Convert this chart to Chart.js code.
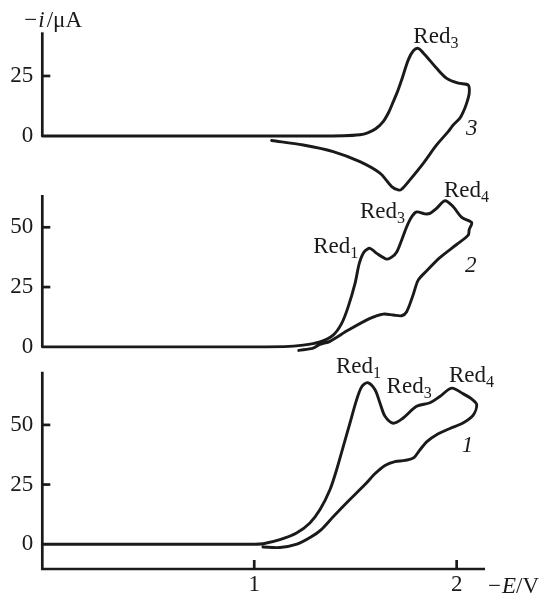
<!DOCTYPE html>
<html>
<head>
<meta charset="utf-8">
<script src="https://cdn.jsdelivr.net/npm/chart.js@4.4.1/dist/chart.umd.min.js"></script>
<style>
html, body { margin: 0; padding: 0; background: #ffffff; }
#wrap { width: 546px; height: 596px; }
canvas { display: block; }
</style>
</head>
<body>
<div id="wrap"><canvas id="cv" width="546" height="596"></canvas></div>
<script>
// ---------- data ----------
// curve 3 (top panel): forward scan then reverse scan (−E in V, −i in µA)
const potential3 = [-0.047, 0.6, 1.2, 1.44, 1.522, 1.56, 1.6, 1.637, 1.665, 1.687, 1.71, 1.728, 1.761, 1.786, 1.81, 1.835, 1.852, 1.901, 1.951, 2.008, 2.057,
                    2.062, 2.049, 2.033, 2.016, 1.983, 1.958, 1.901, 1.835, 1.769, 1.728, 1.711, 1.679, 1.621, 1.522, 1.39, 1.242, 1.086];
const current3   = [0, 0, 0, 0.1, 0.5, 1.3, 3.0, 6.0, 10.0, 14.3, 19.0, 23.3, 31.7, 35.5, 36.5, 34.6, 33.0, 28.2, 24.0, 22.0, 21.2,
                    17.8, 13.6, 10.1, 7.4, 4.6, 1.8, -3.75, -11.4, -18.3, -22.2, -22.5, -21.1, -15.5, -10.7, -6.5, -3.75, -1.9];

// curve 2 (middle panel)
const potential2 = [-0.047, 0.6, 1.15, 1.242, 1.325, 1.39, 1.432, 1.464, 1.498, 1.519, 1.543, 1.572, 1.605, 1.654, 1.679, 1.704, 1.728, 1.753, 1.778, 1.802, 1.843, 1.868, 1.901, 1.942, 1.983, 2.025, 2.074,
                    2.062, 2.057, 2.0, 1.917, 1.852, 1.81, 1.786, 1.753, 1.728, 1.687, 1.637, 1.572, 1.465, 1.374, 1.325, 1.291, 1.22];
const current2   = [0, 0, 0.1, 0.7, 2.1, 4.9, 9.8, 16.7, 26.5, 34.9, 39.7, 41.2, 39.1, 36.7, 37.5, 39.7, 44.6, 50.2, 54.4, 56.4, 55.6, 55.8, 57.9, 61.1, 58.6, 54.1, 52.0,
                    49.0, 46.7, 42.8, 37.3, 31.8, 27.9, 22.0, 14.7, 13.0, 13.3, 13.7, 11.9, 7.0, 2.3, 1.0, -0.5, -1.5];

// curve 1 (bottom panel)
const potential1 = [-0.047, 0.6, 1.0, 1.044, 1.127, 1.209, 1.275, 1.325, 1.374, 1.407, 1.44, 1.473, 1.506, 1.531, 1.56, 1.596, 1.621, 1.646, 1.687, 1.736, 1.802, 1.868, 1.917, 1.975, 2.033, 2.074, 2.099,
                    2.081, 2.031, 1.967, 1.903, 1.853, 1.819, 1.789, 1.745, 1.695, 1.646, 1.596, 1.547, 1.458, 1.39, 1.33, 1.28, 1.211, 1.127, 1.043];
const current1   = [0, 0, 0, 0.2, 1.9, 4.7, 8.9, 14.5, 22.8, 31.2, 41.0, 50.8, 60.6, 66.0, 67.7, 64.8, 59.2, 53.6, 50.7, 52.9, 57.8, 59.3, 61.9, 65.4, 63.0, 60.9, 58.5,
                    54.0, 50.8, 48.5, 46.0, 43.0, 39.6, 36.3, 35.1, 34.6, 33.0, 29.5, 25.0, 17.5, 11.5, 6.0, 3.0, 0.0, -1.4, -1.2];

// tick labels
const xTickValues  = [1, 2];
const yTickValues1 = [0, 25, 50];
const yTickValues2 = [0, 25, 50];
const yTickValues3 = [0, 25];

// ---------- styling / annotation placement ----------
const INK = '#1a1a1a';
const SERIF = '"Liberation Serif", "Times New Roman", Times, serif';
const FS = 23;
const SUBFS = 16;

const peakLabels = [
  { axis: 'y3', E: 1.786, I: 38.9, name: 'Red', sub: '3' },
  { axis: 'y2', E: 1.937, I: 62.8, name: 'Red', sub: '4' },
  { axis: 'y2', E: 1.522, I: 54.0, name: 'Red', sub: '3' },
  { axis: 'y2', E: 1.291, I: 39.3, name: 'Red', sub: '1' },
  { axis: 'y1', E: 1.404, I: 71.7, name: 'Red', sub: '1' },
  { axis: 'y1', E: 1.654, I: 63.3, name: 'Red', sub: '3' },
  { axis: 'y1', E: 1.962, I: 68.1, name: 'Red', sub: '4' }
];
const curveTags = [
  { axis: 'y3', E: 2.046, I: 0.4, text: '3' },
  { axis: 'y2', E: 2.041, I: 31.4, text: '2' },
  { axis: 'y1', E: 2.025, I: 38.8, text: '1' }
];
const panelAxes = [
  { id: 'y3', ticks: yTickValues3, floor: 0 },
  { id: 'y2', ticks: yTickValues2, floor: 0 },
  { id: 'y1', ticks: yTickValues1, floor: null }
];

function rich(ctx, x, y, parts) {
  let cx = x;
  parts.forEach(p => {
    ctx.font = (p.it ? 'italic ' : '') + (p.size || FS) + 'px ' + SERIF;
    ctx.fillText(p.t, cx, y + (p.dy || 0));
    cx += ctx.measureText(p.t).width + (p.gap || 0);
  });
}

const framePlugin = {
  id: 'frame',
  afterDraw(chart) {
    const { ctx, chartArea: a, scales } = chart;
    const xs = scales.x;
    ctx.save();
    ctx.strokeStyle = INK;
    ctx.fillStyle = INK;
    ctx.lineWidth = 2.7;
    ctx.lineCap = 'butt';
    ctx.lineJoin = 'miter';
    // axes
    panelAxes.forEach(p => {
      const s = scales[p.id];
      const yb = p.floor === null ? s.bottom : s.getPixelForValue(p.floor);
      ctx.beginPath();
      ctx.moveTo(a.left, s.top);
      ctx.lineTo(a.left, yb);
      if (p.floor === null) ctx.lineTo(a.right, yb);
      ctx.stroke();
      p.ticks.forEach(v => {
        if (v === 0) return;
        const y = s.getPixelForValue(v);
        ctx.beginPath();
        ctx.moveTo(a.left, y);
        ctx.lineTo(a.left + 8, y);
        ctx.stroke();
      });
    });
    xTickValues.forEach(v => {
      const x = xs.getPixelForValue(v);
      ctx.beginPath();
      ctx.moveTo(x, a.bottom);
      ctx.lineTo(x, a.bottom - 9);
      ctx.stroke();
    });
    // text
    ctx.textAlign = 'left';
    ctx.textBaseline = 'alphabetic';
    rich(ctx, a.left - 18, a.top - 5, [{ t: '\u2212', gap: 1 }, { t: 'i', it: true, gap: 2 }, { t: '/\u03BCA' }]);
    rich(ctx, a.right + 3, a.bottom + 24, [{ t: '\u2212', gap: 1 }, { t: 'E', it: true }, { t: '/V' }]);
    peakLabels.forEach(l => {
      const s = scales[l.axis];
      rich(ctx, xs.getPixelForValue(l.E), s.getPixelForValue(l.I),
           [{ t: l.name }, { t: l.sub, size: SUBFS, dy: 5 }]);
    });
    curveTags.forEach(l => {
      const s = scales[l.axis];
      rich(ctx, xs.getPixelForValue(l.E), s.getPixelForValue(l.I), [{ t: l.text, it: true }]);
    });
    ctx.restore();
  }
};

function series(E, I, axis) {
  return {
    data: E.map((e, k) => ({ x: e, y: I[k] })),
    yAxisID: axis,
    showLine: true,
    borderColor: INK,
    backgroundColor: INK,
    borderWidth: 2.9,
    pointRadius: 0,
    pointHoverRadius: 0,
    tension: 0.3,
    fill: false,
    clip: false,
    borderJoinStyle: 'round',
    borderCapStyle: 'round'
  };
}

function yScale(min, max, tickVals, weight) {
  return {
    type: 'linear',
    axis: 'y',
    position: 'left',
    stack: 'panels',
    stackWeight: weight,
    min: min,
    max: max,
    offset: false,
    grid: { display: false, drawTicks: false },
    border: { display: false },
    afterBuildTicks: s => { s.ticks = tickVals.map(v => ({ value: v })); },
    afterFit: s => { s.width = 42.3; },
    ticks: {
      font: { family: SERIF, size: FS },
      color: INK,
      padding: 9,
      autoSkip: false,
      callback: v => String(v)
    }
  };
}

new Chart(document.getElementById('cv'), {
  type: 'scatter',
  data: {
    datasets: [
      series(potential1, current1, 'y1'),
      series(potential2, current2, 'y2'),
      series(potential3, current3, 'y3')
    ]
  },
  options: {
    responsive: false,
    animation: false,
    devicePixelRatio: 1,
    events: [],
    layout: { padding: { top: 32.3, right: 61, bottom: 0, left: 0 } },
    plugins: { legend: { display: false }, tooltip: { enabled: false }, title: { display: false } },
    scales: {
      x: {
        type: 'linear',
        position: 'bottom',
        min: -0.047,
        max: 2.14,
        grid: { display: false, drawTicks: false },
        border: { display: false },
        afterBuildTicks: s => { s.ticks = xTickValues.map(v => ({ value: v })); },
        afterFit: s => { s.height = 27; },
        ticks: {
          font: { family: SERIF, size: FS },
          color: INK,
          padding: 2,
          maxRotation: 0,
          autoSkip: false,
          callback: v => String(v)
        }
      },
      y1: yScale(-10.4, 72.3, yTickValues1, 197.3),
      y2: yScale(-10.4, 63.5, yTickValues2, 176.7),
      y3: yScale(-24.6, 43.2, yTickValues3, 162.7)
    }
  },
  plugins: [framePlugin]
});
</script>
</body>
</html>
